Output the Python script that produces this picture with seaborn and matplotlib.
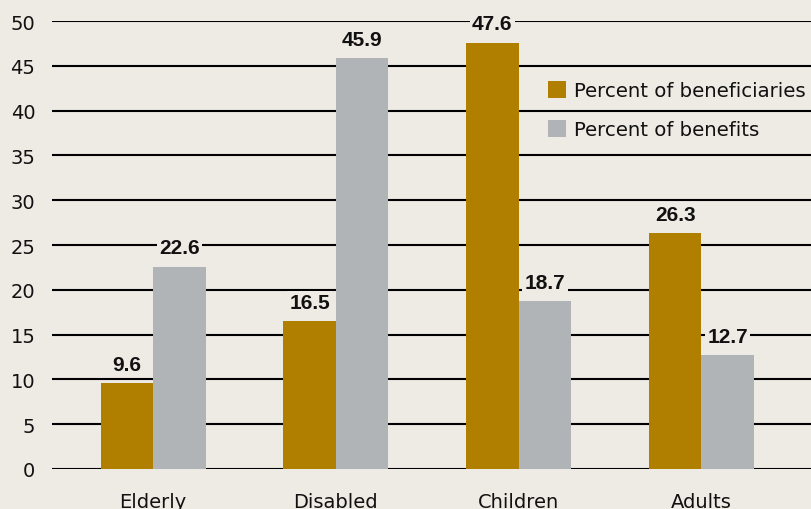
import matplotlib
matplotlib.use("Agg")
import matplotlib.pyplot as plt
import seaborn as sns
import pandas as pd
from matplotlib.patches import Patch

groups = ["Elderly", "Disabled", "Children", "Adults"]
series = ["Percent of beneficiaries", "Percent of benefits"]
beneficiaries = [9.6, 16.5, 47.6, 26.3]
benefits = [22.6, 45.9, 18.7, 12.7]
y_ticks = [0, 5, 10, 15, 20, 25, 30, 35, 40, 45, 50]

BG = "#eeeae4"
GOLD = "#b07f00"
GRAY = "#b1b4b6"
INK = "#111111"

df = pd.DataFrame({
    "group": groups * 2,
    "series": [series[0]] * len(groups) + [series[1]] * len(groups),
    "value": beneficiaries + benefits,
})

sns.set_theme(style="white")
plt.rcParams["font.family"] = ["DejaVu Sans"]

fig = plt.figure(figsize=(8.11, 5.10), dpi=100, facecolor=BG)
ax = fig.add_axes([52 / 811, 40 / 510, 759 / 811, 448 / 510])
ax.set_facecolor(BG)

sns.barplot(data=df, x="group", y="value", hue="series", order=groups,
            hue_order=series, palette=[GOLD, GRAY], width=0.575,
            saturation=1, legend=False, ax=ax)

for p in ax.patches:
    p.set_edgecolor("none")

ax.set_xlim(-0.553, 3.60)
ax.set_ylim(0, 50)
ax.set_yticks(y_ticks)
ax.yaxis.grid(True, color="black", linewidth=1.5)
ax.xaxis.grid(False)
ax.set_axisbelow(True)
for s in ax.spines.values():
    s.set_visible(False)
ax.tick_params(axis="y", length=0, pad=12, labelsize=14, labelcolor=INK)
ax.tick_params(axis="x", length=0, pad=16.5, labelsize=14, labelcolor=INK)
ax.set_xlabel("")
ax.set_ylabel("")

# value labels above each bar, boxed so gridlines break behind them
for container in ax.containers:
    for bar in container:
        h = bar.get_height()
        ax.annotate(f"{h:.1f}", (bar.get_x() + bar.get_width() / 2, h),
                    xytext=(0, 6.5), textcoords="offset points",
                    ha="center", va="bottom", fontsize=15, fontweight="bold",
                    family="Liberation Sans", color=INK,
                    annotation_clip=False,
                    bbox=dict(facecolor=BG, edgecolor="none", pad=1.8))

handles = [Patch(facecolor=GOLD, edgecolor="none"),
           Patch(facecolor=GRAY, edgecolor="none")]
ax.legend(handles, series, loc="upper left", bbox_to_anchor=(0.653, 0.866),
          frameon=False, fontsize=14.2, handlelength=0.95, handleheight=0.95,
          handletextpad=0.4, labelspacing=1.0, borderpad=0,
          borderaxespad=0, labelcolor=INK)

fig.savefig("out.png", dpi=100, facecolor=BG)
